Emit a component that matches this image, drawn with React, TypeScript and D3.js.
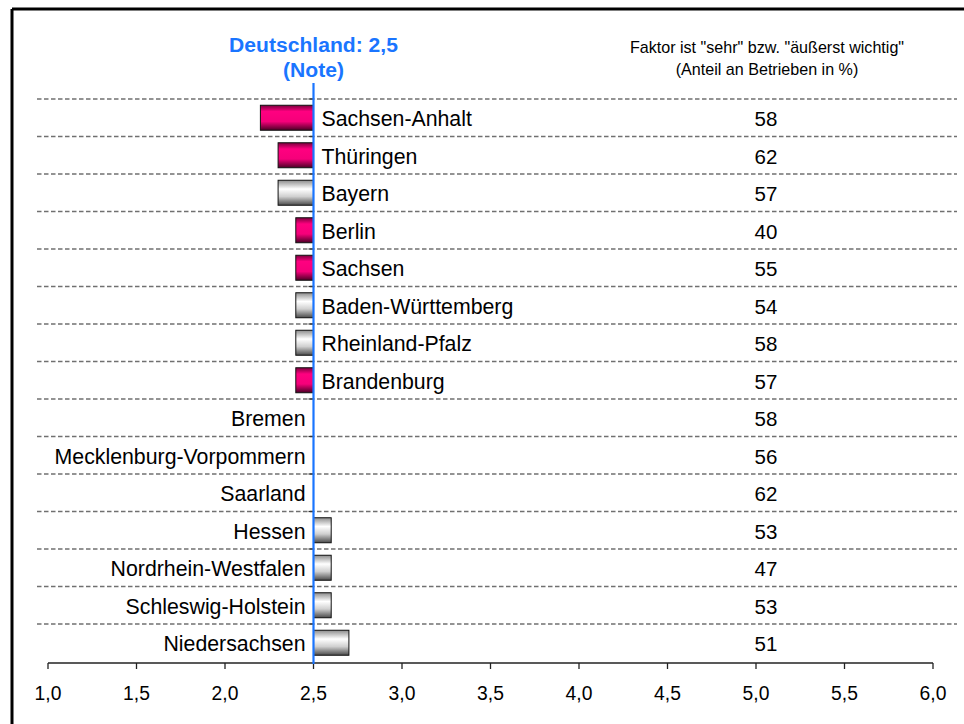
import React from "react";
import * as d3 from "d3";

const categories = [
  "Sachsen-Anhalt", "Thüringen", "Bayern", "Berlin", "Sachsen",
  "Baden-Württemberg", "Rheinland-Pfalz", "Brandenburg", "Bremen",
  "Mecklenburg-Vorpommern", "Saarland", "Hessen", "Nordrhein-Westfalen",
  "Schleswig-Holstein", "Niedersachsen",
];
const noten = [2.2, 2.3, 2.3, 2.4, 2.4, 2.4, 2.4, 2.4, 2.5, 2.5, 2.5, 2.6, 2.6, 2.6, 2.7];
const anteil = [58, 62, 57, 40, 55, 54, 58, 57, 58, 56, 62, 53, 47, 53, 51];
const east = [true, true, false, true, true, false, false, true, false, false, false, false, false, false, false];
const xTicks = [1.0, 1.5, 2.0, 2.5, 3.0, 3.5, 4.0, 4.5, 5.0, 5.5, 6.0];
const reference = 2.5;

const FONT = "'Liberation Sans', Arial, Helvetica, sans-serif";
const BLUE = "#1a75ff";

export default function App() {
  const W = 964, H = 724;
  const x = d3.scaleLinear().domain([1, 6]).range([48, 933]);
  const y = d3.scaleBand<string>().domain(categories).range([99, 661.5]).paddingInner(0).paddingOuter(0);
  const bw = y.bandwidth();
  const barH = 25;
  const locale = d3.formatLocale({ decimal: ",", thousands: ".", grouping: [3], currency: ["", "€"] });
  const fmt = locale.format(".1f");
  const x0 = x(reference);
  const axisY = 663;

  return (
    <svg width={W} height={H} style={{ position: "absolute", left: 0, top: 0, background: "#fff" }} fontFamily={FONT}>
      <defs>
        <linearGradient id="gMag" x1="0" y1="0" x2="0" y2="1">
          <stop offset="0" stopColor="#7a003d" />
          <stop offset="0.25" stopColor="#ff0080" />
          <stop offset="0.65" stopColor="#f5007a" />
          <stop offset="1" stopColor="#4a0025" />
        </linearGradient>
        <linearGradient id="gGray" x1="0" y1="0" x2="0" y2="1">
          <stop offset="0" stopColor="#8c8c8c" />
          <stop offset="0.35" stopColor="#ffffff" />
          <stop offset="0.65" stopColor="#d0d0d0" />
          <stop offset="1" stopColor="#4a4a4a" />
        </linearGradient>
      </defs>
      <rect x={0} y={0} width={W} height={H} fill="#fff" />
      {/* frame */}
      <line x1={12} y1={9} x2={W} y2={9} stroke="#000" strokeWidth={3} />
      <line x1={12} y1={9} x2={12} y2={H} stroke="#000" strokeWidth={3} />

      {/* headers */}
      <text x={x0} y={52} textAnchor="middle" fill={BLUE} fontWeight="bold" fontSize={21.1}>Deutschland: 2,5</text>
      <text x={x0} y={77} textAnchor="middle" fill={BLUE} fontWeight="bold" fontSize={21.1}>(Note)</text>
      <text x={767} y={53} textAnchor="middle" fill="#000" fontSize={16.1}>Faktor ist "sehr" bzw. "äußerst wichtig"</text>
      <text x={767} y={75} textAnchor="middle" fill="#000" fontSize={16.1}>(Anteil an Betrieben in %)</text>

      {/* dashed separators */}
      {categories.map((c) => (
        <line key={"d" + c} x1={37} x2={957} y1={y(c)!} y2={y(c)!} stroke="#707070" strokeWidth={1.3} strokeDasharray="4.5,2.5" />
      ))}
      {/* category axis ticks */}
      {categories.map((c) => (
        <line key={"t" + c} x1={x0 - 5} x2={x0} y1={y(c)!} y2={y(c)!} stroke="#333" strokeWidth={1.3} />
      ))}

      {/* bars */}
      {categories.map((c, i) => {
        const v = noten[i];
        if (v === reference) return null;
        const xa = Math.min(x(v), x0), xb = Math.max(x(v), x0);
        return (
          <rect key={"b" + c} x={xa} y={y(c)! + (bw - barH) / 2} width={xb - xa} height={barH}
            fill={east[i] ? "url(#gMag)" : "url(#gGray)"} stroke="#111" strokeWidth={1} />
        );
      })}

      {/* labels */}
      {categories.map((c, i) => {
        const right = noten[i] < reference;
        return (
          <text key={"l" + c} x={right ? x0 + 8 : x0 - 8} y={y(c)! + bw / 2 + 8.5}
            textAnchor={right ? "start" : "end"} fontSize={21.3} fill="#000">{c}</text>
        );
      })}
      {/* values */}
      {categories.map((c, i) => (
        <text key={"v" + c} x={766} y={y(c)! + bw / 2 + 8.5} textAnchor="middle" fontSize={20.5} fill="#000">{anteil[i]}</text>
      ))}

      {/* x axis */}
      <line x1={x(1)} x2={x(6)} y1={axisY} y2={axisY} stroke="#222" strokeWidth={1.3} />
      {xTicks.map((t) => (
        <g key={"x" + t}>
          <line x1={x(t)} x2={x(t)} y1={axisY} y2={axisY + 6} stroke="#222" strokeWidth={1.3} />
          <text x={x(t)} y={axisY + 37} textAnchor="middle" fontSize={19.3} fill="#000">{fmt(t)}</text>
        </g>
      ))}

      {/* reference line */}
      <line x1={x0} x2={x0} y1={83} y2={axisY + 1} stroke={BLUE} strokeWidth={2.2} />
    </svg>
  );
}
